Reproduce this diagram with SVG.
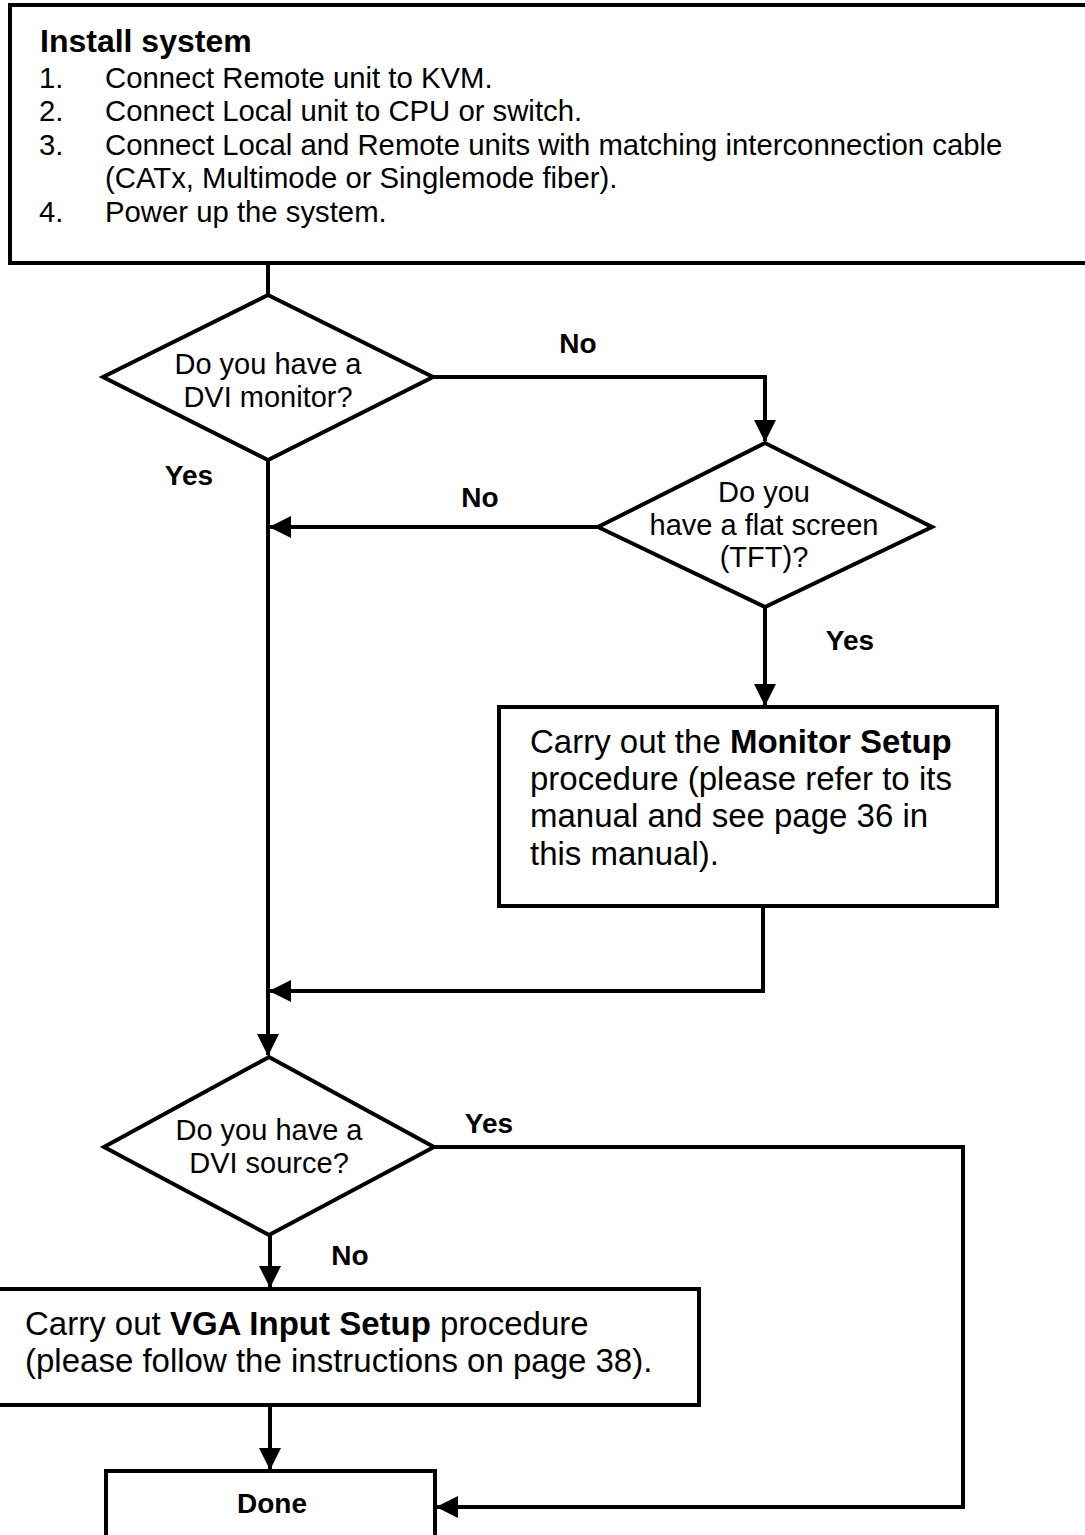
<svg xmlns="http://www.w3.org/2000/svg" width="1085" height="1535" viewBox="0 0 1085 1535">
<style>
  .shape { fill: #ffffff; stroke: #000000; stroke-width: 4; }
  .conn { fill: none; stroke: #000000; stroke-width: 4; }
  text { font-family: "Liberation Sans", Arial, sans-serif; fill: #000000; }
  .list { font-size: 29.3px; }
  .dia { font-size: 29px; text-anchor: middle; }
  .box { font-size: 33px; }
  .lbl { font-size: 28px; font-weight: bold; text-anchor: middle; }
  .b { font-weight: bold; }
</style>
<defs>
  <marker id="arrow" viewBox="0 0 22 22" refX="21" refY="11" markerWidth="22" markerHeight="22" markerUnits="userSpaceOnUse" orient="auto">
    <path d="M0,0 L22,11 L0,22 Z" fill="#000000"/>
  </marker>
</defs>
<rect width="1085" height="1535" fill="#ffffff"/>

<g id="connectors">
  <path class="conn" d="M268,263 V295"/>
  <path class="conn" d="M433,377 H765 V441" marker-end="url(#arrow)"/>
  <path class="conn" d="M268,460 V1055" marker-end="url(#arrow)"/>
  <path class="conn" d="M598,527 H270" marker-end="url(#arrow)"/>
  <path class="conn" d="M765,607 V705" marker-end="url(#arrow)"/>
  <path class="conn" d="M763,906 V991 H270" marker-end="url(#arrow)"/>
  <path class="conn" d="M434,1147 H963 V1507 H437" marker-end="url(#arrow)"/>
  <path class="conn" d="M270,1235 V1287" marker-end="url(#arrow)"/>
  <path class="conn" d="M270,1405 V1469" marker-end="url(#arrow)"/>
  <text class="lbl" x="578" y="353">No</text>
  <text class="lbl" x="189" y="485">Yes</text>
  <text class="lbl" x="480" y="507">No</text>
  <text class="lbl" x="850" y="650">Yes</text>
  <text class="lbl" x="489" y="1133">Yes</text>
  <text class="lbl" x="350" y="1265">No</text>
</g>

<g id="install">
  <rect class="shape" x="10" y="5" width="1085" height="258" stroke-width="5"/>
  <text x="40" y="52" font-size="32" class="b">Install system</text>
  <text class="list" x="39" y="88">1.</text>
  <text class="list" x="105" y="88">Connect Remote unit to KVM.</text>
  <text class="list" x="39" y="121">2.</text>
  <text class="list" x="105" y="121">Connect Local unit to CPU or switch.</text>
  <text class="list" x="39" y="155">3.</text>
  <text class="list" x="105" y="155">Connect Local and Remote units with matching interconnection cable</text>
  <text class="list" x="105" y="188">(CATx, Multimode or Singlemode fiber).</text>
  <text class="list" x="39" y="222">4.</text>
  <text class="list" x="105" y="222">Power up the system.</text>
</g>

<g id="dvi-monitor">
  <polygon class="shape" points="268,295 433,377 268,460 103,377"/>
  <text class="dia" x="268" y="374">Do you have a</text>
  <text class="dia" x="268" y="407">DVI monitor?</text>
</g>

<g id="flat-screen">
  <polygon class="shape" points="765,443 932,527 765,607 598,527"/>
  <text class="dia" x="764" y="502">Do you</text>
  <text class="dia" x="764" y="535">have a flat screen</text>
  <text class="dia" x="764" y="567">(TFT)?</text>
</g>

<g id="monitor-setup">
  <rect class="shape" x="499" y="707" width="498" height="199"/>
  <text class="box" x="530" y="753">Carry out the <tspan class="b">Monitor Setup</tspan></text>
  <text class="box" x="530" y="790">procedure (please refer to its</text>
  <text class="box" x="530" y="827">manual and see page 36 in</text>
  <text class="box" x="530" y="865">this manual).</text>
</g>

<g id="dvi-source">
  <polygon class="shape" points="269,1057 434,1147 269,1235 104,1147"/>
  <text class="dia" x="269" y="1140">Do you have a</text>
  <text class="dia" x="269" y="1173">DVI source?</text>
</g>

<g id="vga-setup">
  <rect class="shape" x="-10" y="1289" width="709" height="116"/>
  <text class="box" x="25" y="1335">Carry out <tspan class="b">VGA Input Setup</tspan> procedure</text>
  <text class="box" x="25" y="1372">(please follow the instructions on page 38).</text>
</g>

<g id="done">
  <rect class="shape" x="106" y="1471" width="329" height="80"/>
  <text x="272" y="1513" font-size="28" class="b" text-anchor="middle">Done</text>
</g>
</svg>
